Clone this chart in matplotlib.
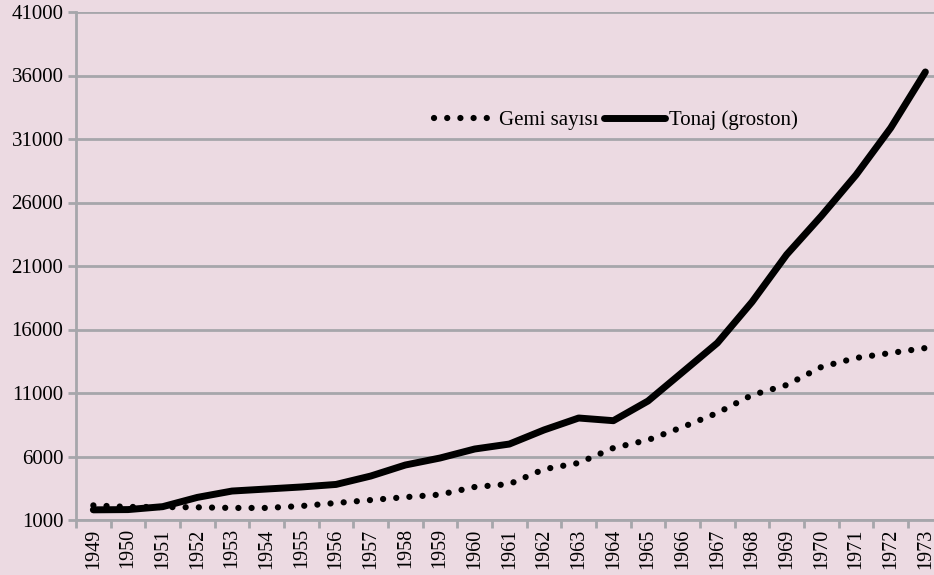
import matplotlib.pyplot as plt
import numpy as np

# Türk ticaret filosu, 1949-1973
years = [str(y) for y in range(1949, 1974)]
gemi_sayisi = [2150, 2030, 2020, 2000, 1950, 1950, 2100, 2340, 2570, 2800,
               3000, 3600, 3830, 5000, 5490, 6670, 7300, 8320, 9430, 10840,
               11630, 13050, 13760, 14150, 14540]
tonaj = [1800, 1820, 2050, 2780, 3280, 3440, 3600, 3800, 4460, 5330,
         5880, 6590, 6980, 8090, 9030, 8820, 10370, 12650, 14940, 18170,
         21900, 24940, 28170, 31870, 36280]
y_ticks = [1000, 6000, 11000, 16000, 21000, 26000, 31000, 36000, 41000]

bg = '#ECDAE2'
grid_col = '#A6A6AB'
plt.rcParams['font.family'] = ['Liberation Serif', 'DejaVu Serif']

fig = plt.figure(figsize=(9.34, 5.75), dpi=100, facecolor=bg)
ax = fig.add_axes([76 / 934, 55 / 575, 866.7 / 934, 508 / 575], facecolor=bg)

x = np.arange(len(years))
ax.plot(x, gemi_sayisi, color='black', lw=4.5, ls=(0, (0.01, 2.1)),
        dash_capstyle='round', label='Gemi sayısı', zorder=3)
ax.plot(x, tonaj, color='black', lw=5, solid_capstyle='round',
        solid_joinstyle='round', label='Tonaj (groston)', zorder=3)

ax.set_xlim(-0.5, len(years) - 0.5)
ax.set_ylim(1000, 41000)
ax.set_yticks(y_ticks)
ax.set_yticklabels([str(v) for v in y_ticks], fontsize=15)
ax.set_xticks(x)
ax.set_xticklabels(years, rotation=90, fontsize=14.5)
ax.set_xticks(np.arange(len(years) + 1) - 0.5, minor=True)

ax.grid(axis='y', color=grid_col, lw=2)
ax.set_axisbelow(True)
for side in ['top', 'right']:
    ax.spines[side].set_visible(False)
for side in ['left', 'bottom']:
    ax.spines[side].set_color(grid_col)
    ax.spines[side].set_linewidth(2)

ax.tick_params(axis='x', which='major', length=0, pad=6)
ax.tick_params(axis='x', which='minor', length=6, width=2, color=grid_col)
ax.tick_params(axis='y', length=6, width=2, color=grid_col, pad=3)

ax.legend(loc='center', bbox_to_anchor=((616 - 76) / 866.7, (575 - 120 - 55) / 508),
          ncol=2, frameon=False, fontsize=15, handlelength=2.9,
          handletextpad=0.2, columnspacing=0.3)

fig.savefig('out.png', dpi=100, facecolor=bg)
